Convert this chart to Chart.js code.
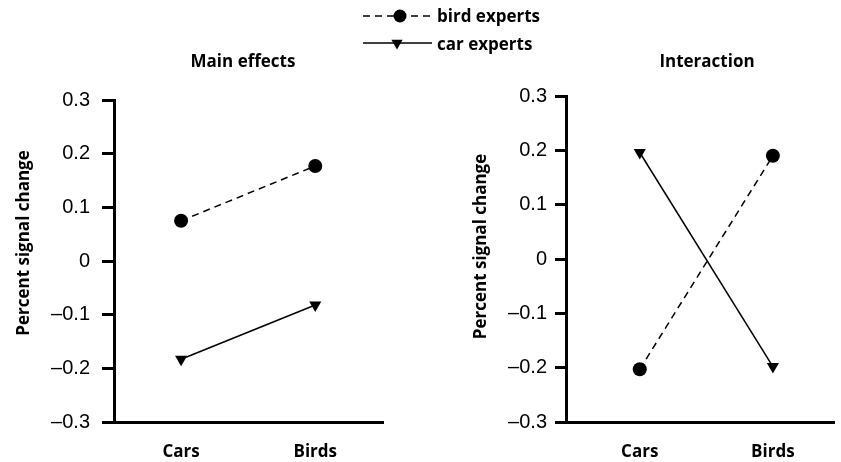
<!DOCTYPE html>
<html>
<head>
<meta charset="utf-8">
<script src="https://cdn.jsdelivr.net/npm/chart.js@4.4.0/dist/chart.umd.min.js"></script>
<style>
html, body { margin: 0; padding: 0; background: #fff; overflow: hidden; width: 841px; height: 462px; }
#main { position: absolute; left: 0; top: 0; }
#inter { position: absolute; left: 450px; top: 0; }
</style>
</head>
<body>
<canvas id="main" width="841" height="462"></canvas>
<canvas id="inter" width="391" height="462"></canvas>
<script>
// data
const categories = ['Cars', 'Birds'];
const seriesNames = ['bird experts', 'car experts'];
const yTickLabels = ['–0.3', '–0.2', '–0.1', '0', '0.1', '0.2', '0.3'];
const yAxisTitle = 'Percent signal change';
const mainBird = [0.075, 0.177];
const mainCar = [-0.183, -0.082];
const interBird = [-0.203, 0.19];
const interCar = [0.196, -0.198];

const boldFont = "'Open Sans', 'DejaVu Sans', sans-serif";
Chart.defaults.color = '#000';
Chart.defaults.font.family = "'Liberation Sans', Arial, sans-serif";

const toPoints = (vals) => vals.map((v, i) => ({ x: i, y: v }));

const makeDatasets = (bird, car) => [
    {
        label: seriesNames[0],
        data: toPoints(bird),
        borderColor: '#000',
        borderWidth: 1.5,
        borderDash: [7, 5],
        pointStyle: 'circle',
        pointRadius: 7,
        pointBackgroundColor: '#000',
        pointBorderWidth: 0
    },
    {
        label: seriesNames[1],
        data: toPoints(car),
        borderColor: '#000',
        borderWidth: 1.5,
        pointStyle: 'triangle',
        pointRotation: 180,
        pointRadius: 7,
        pointBackgroundColor: '#000',
        pointBorderWidth: 0
    }
];

// panel title + rotated y title, placed where the figure has them
const panelTitle = {
    id: 'panelTitle',
    afterDraw(chart, args, opts) {
        const ctx = chart.ctx;
        ctx.save();
        ctx.fillStyle = '#000';
        ctx.textAlign = 'center';
        ctx.textBaseline = 'alphabetic';
        ctx.font = 'bold 17px ' + boldFont;
        ctx.fillText(opts.text, opts.x, opts.y);
        ctx.translate(opts.yTitleX, opts.yTitleY);
        ctx.rotate(-Math.PI / 2);
        ctx.fillText(yAxisTitle, 0, 0);
        ctx.restore();
    }
};

// legend with line + marker samples, built from the datasets
const sampleLegend = {
    id: 'sampleLegend',
    afterDraw(chart, args, opts) {
        if (!opts.display) return;
        const ctx = chart.ctx;
        chart.data.datasets.forEach((ds, i) => {
            const y = opts.rows[i];
            ctx.save();
            ctx.strokeStyle = ds.borderColor;
            ctx.lineWidth = ds.borderWidth;
            ctx.setLineDash(ds.borderDash || []);
            ctx.beginPath();
            ctx.moveTo(opts.x0, y);
            ctx.lineTo(opts.x1, y);
            ctx.stroke();
            ctx.setLineDash([]);
            ctx.fillStyle = '#000';
            Chart.helpers.drawPoint(ctx, {
                pointStyle: ds.pointStyle,
                rotation: ds.pointRotation || 0,
                radius: 6.5,
                borderWidth: 0
            }, opts.markerX[i], y);
            ctx.font = 'bold 17px ' + boldFont;
            ctx.textBaseline = 'alphabetic';
            ctx.textAlign = 'left';
            ctx.fillText(ds.label, opts.textX, opts.baselines[i]);
            ctx.restore();
        });
    }
};

function makeOptions(cfg) {
    return {
        responsive: false,
        animation: false,
        layout: { padding: cfg.padding },
        plugins: {
            legend: { display: false },
            tooltip: { enabled: false },
            panelTitle: cfg.title,
            sampleLegend: cfg.legend
        },
        scales: {
            x: {
                type: 'linear',
                min: cfg.xMin,
                max: cfg.xMax,
                afterBuildTicks: (scale) => { scale.ticks = categories.map((c, i) => ({ value: i })); },
                afterFit: (scale) => { scale.height = cfg.xHeight; },
                grid: { display: false, drawTicks: false },
                border: { display: true, color: '#000', width: 3 },
                ticks: {
                    padding: cfg.xPad,
                    maxRotation: 0,
                    font: { family: boldFont, weight: 'bold', size: 17 },
                    callback: (v) => categories[v]
                }
            },
            y: {
                min: -0.3,
                max: 0.3,
                ticks: {
                    stepSize: 0.1,
                    padding: cfg.yPad,
                    font: { size: 20 },
                    callback: (v, i) => yTickLabels[i]
                },
                afterFit: (scale) => { scale.width = cfg.yWidth; },
                grid: { display: true, drawOnChartArea: false, drawTicks: true, tickLength: cfg.tickLen, color: '#000', lineWidth: 3 },
                border: { display: true, color: '#000', width: 3 }
            }
        }
    };
}

new Chart(document.getElementById('main'), {
    type: 'line',
    data: { datasets: makeDatasets(mainBird, mainCar) },
    options: makeOptions({
        padding: { left: 0, top: 100, right: 458, bottom: 0 },
        xMin: -0.5, xMax: 1.505, xHeight: 40, xPad: 20,
        yWidth: 114, yPad: 12, tickLen: 12,
        title: { text: 'Main effects', x: 243, y: 66.5, yTitleX: 28.5, yTitleY: 243 },
        legend: { display: true, x0: 363, x1: 432, markerX: [400, 397], textX: 437, rows: [16, 43], baselines: [22, 50] }
    }),
    plugins: [panelTitle, sampleLegend]
});

new Chart(document.getElementById('inter'), {
    type: 'line',
    data: { datasets: makeDatasets(interBird, interCar) },
    options: makeOptions({
        padding: { left: 0, top: 96, right: 0, bottom: 0 },
        xMin: -0.554, xMax: 1.459, xHeight: 40, xPad: 20,
        yWidth: 116, yPad: 8, tickLen: 11,
        title: { text: 'Interaction', x: 257, y: 66.5, yTitleX: 36, yTitleY: 246.5 },
        legend: { display: false }
    }),
    plugins: [panelTitle, sampleLegend]
});
</script>
</body>
</html>
